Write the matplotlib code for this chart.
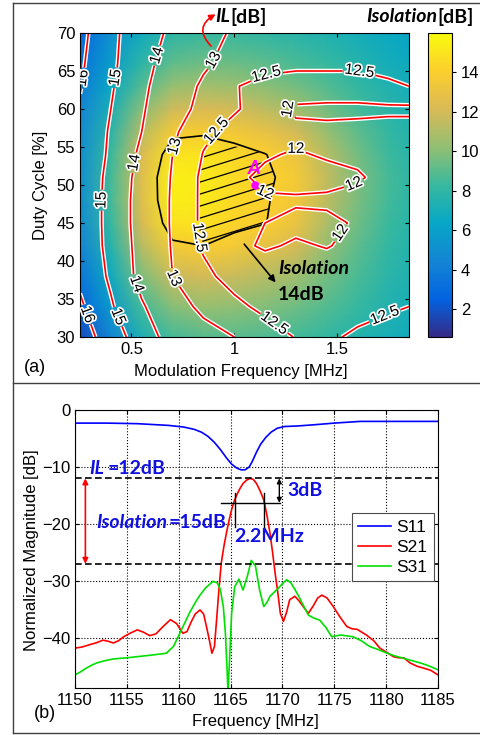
import numpy as np
import matplotlib.pyplot as plt
import matplotlib.patheffects as pe
from matplotlib.colors import LinearSegmentedColormap
from matplotlib.patches import PathPatch, FancyArrowPatch
from matplotlib.lines import Line2D

plt.rcParams['font.family'] = ['Liberation Sans', 'DejaVu Sans']

# ---- panel (a): isolation map + IL contours ----
mod_freq = [0.25, 0.4, 0.55, 0.7, 0.85, 1.0, 1.15, 1.3, 1.45, 1.6, 1.75, 1.85]
duty = [30, 34, 38, 42, 45, 48, 51, 54, 57, 60, 63, 66, 70]

isolation = [
    [1.8, 4.5, 7.3, 8.6, 9.0, 9.0, 8.8, 8.5, 8.1, 7.6, 7.1, 6.8],
    [2.7, 5.6, 8.5, 10.0, 10.4, 10.2, 9.9, 9.5, 8.9, 8.2, 7.5, 7.1],
    [3.6, 6.7, 9.8, 11.7, 12.0, 11.7, 11.2, 10.6, 9.6, 8.7, 7.8, 7.4],
    [4.4, 7.6, 11.2, 13.7, 14.0, 13.6, 12.9, 12.1, 10.4, 9.1, 8.1, 7.6],
    [4.8, 8.2, 12.1, 14.9, 14.9, 14.3, 14.05, 13.1, 11.0, 9.5, 8.3, 7.8],
    [5.0, 8.5, 12.5, 15.4, 15.2, 14.5, 14.1, 13.5, 11.4, 9.7, 8.5, 7.9],
    [5.0, 8.5, 12.5, 15.5, 15.3, 14.6, 14.2, 13.6, 11.5, 9.8, 8.6, 8.0],
    [5.0, 8.3, 12.2, 14.9, 15.0, 14.5, 14.05, 13.2, 11.2, 9.6, 8.4, 7.8],
    [4.8, 7.8, 11.2, 13.6, 13.8, 13.5, 12.9, 12.0, 10.4, 9.1, 8.1, 7.6],
    [4.4, 7.2, 10.0, 11.9, 12.2, 12.0, 11.4, 10.7, 9.6, 8.6, 7.8, 7.3],
    [3.9, 6.5, 8.9, 10.4, 10.7, 10.5, 10.1, 9.6, 8.9, 8.1, 7.4, 7.0],
    [3.4, 5.8, 7.9, 9.2, 9.5, 9.4, 9.1, 8.7, 8.2, 7.6, 7.0, 6.7],
    [2.8, 5.0, 6.8, 7.9, 8.2, 8.2, 8.0, 7.7, 7.4, 7.0, 6.6, 6.3],
]

insertion_loss = [
    [16.5, 15.5, 14.5, 13.6, 13.25, 13.0, 12.7, 12.48, 12.45, 12.55, 12.65, 12.7],
    [16.15, 15.1, 14.1, 13.3, 12.85, 12.6, 12.4, 12.35, 12.35, 12.4, 12.45, 12.5],
    [15.8, 14.85, 13.7, 13.0, 12.6, 12.35, 12.25, 12.2, 12.2, 12.25, 12.3, 12.35],
    [15.65, 14.75, 13.65, 12.95, 12.45, 12.1, 11.95, 12.05, 11.98, 12.1, 12.25, 12.35],
    [15.7, 14.7, 13.6, 12.93, 12.4, 12.1, 12.0, 11.9, 11.9, 12.05, 12.25, 12.3],
    [15.7, 14.7, 13.6, 12.93, 12.4, 12.1, 12.05, 12.05, 12.08, 12.15, 12.25, 12.3],
    [15.7, 14.75, 13.65, 12.95, 12.4, 12.1, 11.9, 11.85, 11.85, 11.95, 12.15, 12.25],
    [15.75, 14.85, 13.8, 13.0, 12.48, 12.2, 12.05, 11.95, 12.05, 12.1, 12.2, 12.25],
    [15.8, 14.9, 14.0, 13.1, 12.6, 12.35, 12.2, 12.15, 12.15, 12.2, 12.2, 12.2],
    [15.9, 15.0, 14.1, 13.3, 12.8, 12.55, 12.3, 11.9, 11.85, 11.85, 11.9, 11.9],
    [16.05, 15.1, 14.2, 13.4, 12.9, 12.52, 12.4, 12.4, 12.4, 12.4, 12.45, 12.5],
    [16.15, 15.2, 14.3, 13.6, 13.1, 12.75, 12.6, 12.55, 12.55, 12.55, 12.6, 12.65],
    [16.3, 15.2, 14.5, 13.8, 13.3, 12.9, 12.8, 12.75, 12.75, 12.75, 12.75, 12.7],
]

il_levels = [12, 12.5, 13, 14, 15, 16]
iso_level = 14
point_a = (1.1, 50)

# where the contour labels sit
label_spots = [(0.28, 64), (0.29, 33), (0.45, 64), (0.35, 48), (0.42, 32.5),
               (0.63, 67), (0.5, 53), (0.53, 37), (0.93, 66), (0.72, 55),
               (0.72, 38), (0.9, 57.5), (0.8, 43), (1.16, 63.6), (1.6, 64),
               (1.2, 32), (1.76, 31), (1.24, 60.3), (1.3, 55.5), (1.12, 47.5),
               (1.6, 48.5), (1.5, 44)]

# ---- panel (b): measured S-parameters ----
f_s11 = [1150, 1153, 1156, 1159, 1160.5, 1161.5, 1162.2, 1162.8, 1163.4, 1164.0, 1164.6,
         1165.1, 1165.6, 1166.0, 1166.4, 1166.8, 1167.1, 1167.5, 1167.9, 1168.4, 1168.9,
         1169.5, 1170.2, 1171.5, 1173, 1175, 1177.5, 1180, 1185]
s11 = [-2.3, -2.3, -2.4, -2.7, -3.0, -3.4, -3.9, -4.6, -5.6, -6.9, -8.4,
       -9.5, -10.2, -10.5, -10.5, -10.0, -9.0, -7.4, -6.0, -4.8, -3.9,
       -3.2, -2.9, -2.8, -2.6, -2.3, -2.0, -2.0, -2.0]

f_s21 = [1150, 1150.7, 1151.4, 1152.0, 1152.7, 1153.2, 1153.7, 1154.2, 1154.7, 1155.3,
         1156.0, 1156.6, 1157.2, 1157.8, 1158.5, 1159.2, 1159.8, 1160.4, 1160.8, 1161.2,
         1161.6, 1162.05, 1162.4, 1162.7, 1163.0, 1163.2, 1163.45, 1163.7, 1163.9, 1164.1,
         1164.35, 1164.6, 1164.85, 1165.1, 1165.35, 1165.6, 1165.9, 1166.2, 1166.55, 1166.9,
         1167.2, 1167.5, 1167.85, 1168.2, 1168.5, 1168.8, 1169.05, 1169.3, 1169.55, 1169.8,
         1170.1, 1170.4, 1170.7, 1171.2, 1171.6, 1172.0, 1172.5, 1173.0, 1173.4, 1173.8,
         1174.3, 1174.9, 1175.5, 1176.2, 1176.7, 1177.2, 1178.1, 1178.8, 1179.4, 1180.1,
         1180.7, 1181.2, 1181.7, 1182.3, 1183.0, 1183.6, 1184.3, 1185]
s21 = [-41.8, -41.6, -41.2, -40.9, -40.4, -40.6, -40.9, -40.5, -39.8, -39.2,
       -38.6, -39.0, -39.6, -39.3, -38.0, -36.8, -37.5, -39.2, -38.9, -37.2,
       -35.8, -35.1, -35.8, -38.2, -40.8, -42.7, -41.5, -35.7, -31.0, -26.9,
       -24.0, -21.6, -19.4, -17.5, -16.0, -14.9, -13.8, -12.9, -12.3, -12.0,
       -12.2, -12.9, -14.2, -15.8, -18.4, -21.6, -25.0, -28.7, -32.0, -35.7,
       -37.1, -35.5, -33.3, -32.7, -33.5, -34.5, -35.7, -34.3, -33.0, -32.5,
       -33.0, -34.5, -36.2, -38.0, -38.4, -38.5, -39.5, -40.5, -41.8, -42.6,
       -43.3, -43.5, -43.5, -44.4, -45.0, -45.3, -45.7, -46.5]

f_s31 = [1150, 1150.5, 1151.1, 1151.6, 1152.1, 1152.9, 1153.7, 1155.0, 1156.0, 1157.5,
         1158.8, 1159.5, 1160.1, 1160.6, 1161.1, 1161.6, 1162.05, 1162.6, 1163.3, 1163.7,
         1164.0, 1164.3, 1164.5, 1164.65, 1164.75, 1164.9, 1165.1, 1165.4, 1165.8, 1166.2,
         1166.6, 1167.0, 1167.4, 1167.8, 1168.2, 1168.5, 1168.8, 1169.2, 1169.6, 1170.0,
         1170.4, 1170.8, 1171.2, 1171.6, 1171.9, 1172.5, 1173.0, 1173.6, 1174.2, 1174.75,
         1175.6, 1176.8, 1177.6, 1178.4, 1179.3, 1180.1, 1180.9, 1181.7, 1182.5, 1183.3,
         1184.1, 1185]
s31 = [-46.5, -46.0, -45.3, -44.8, -44.4, -44.0, -43.7, -43.5, -43.3, -43.0,
       -42.7, -41.5, -39.2, -37.3, -35.4, -33.8, -32.5, -31.2, -30.1, -30.3,
       -31.4, -34.5, -39.2, -45.0, -49.5, -44.0, -35.7, -31.0, -29.7, -31.6,
       -29.3, -26.4, -27.4, -31.6, -34.5, -33.8, -32.7, -32.0, -31.3, -30.5,
       -29.8, -30.3, -31.5, -32.8, -33.9, -36.0, -36.5, -36.9, -38.2, -39.8,
       -39.5, -39.8, -40.5, -41.5, -42.1, -42.7, -43.2, -43.6, -44.0, -44.4,
       -44.9, -45.6]

il_db = -12
iso_db = -27
bw_level = -16.3
bw_edges = [1165.4, 1168.2]

parula = LinearSegmentedColormap.from_list(
    'parula', ['#352a87', '#0363e1', '#1485d4', '#06a7c6', '#38b99e',
               '#92bf73', '#d9ba56', '#fcce2e', '#f9fb0e'])

W, H = 481, 735
fx = lambda px: px / W
fy = lambda py: 1 - py / H

fig = plt.figure(figsize=(4.81, 7.35), dpi=100)

# ---------------- (a) ----------------
ax1 = fig.add_axes([fx(80), fy(337), fx(409) - fx(80), fy(33) - fy(337)])
X, Y = np.meshgrid(mod_freq, duty)
iso = np.array(isolation)
il = np.array(insertion_loss)

mesh = ax1.pcolormesh(X, Y, iso, cmap=parula, vmin=0.6, vmax=16, shading='gouraud')

# hatched area: isolation above 14 dB and IL below 12.5 dB
region = np.minimum(iso - iso_level, 12.5 - il)
hcs = ax1.contourf(X, Y, region, levels=[0, 100], colors='none')
clip = PathPatch(hcs.get_paths()[0], transform=ax1.transData, fc='none', ec='none')
ax1.add_patch(clip)
for k in np.arange(-0.6, 1.2, 0.0395):
    ln, = ax1.plot([0, 1], [k, k + 0.335], transform=ax1.transAxes, color='k', lw=0.9)
    ln.set_clip_path(clip)

ax1.contour(X, Y, iso, levels=[iso_level], colors='k', linewidths=1.2)

cs = ax1.contour(X, Y, il, levels=il_levels, colors='red', linewidths=1.2)
cs.set_path_effects([pe.Stroke(linewidth=3.2, foreground='white'), pe.Normal()])
labels = ax1.clabel(cs, manual=label_spots, fmt='%g', fontsize=11, inline=True, inline_spacing=2)
for t in labels:
    t.set_color('k')
    t.set_path_effects([pe.withStroke(linewidth=2.5, foreground='white')])

ax1.plot(*point_a, 'o', color='magenta', ms=5)
ax1.text(point_a[0] - 0.005, point_a[1] + 2.2, 'A', color='magenta', fontsize=14,
         fontweight='bold', style='italic', ha='center', va='center', family='Lato')
ax1.annotate('', xy=(1.21, 36.9), xytext=(1.04, 42.5),
             arrowprops=dict(arrowstyle='-|>', color='k', lw=1.2, mutation_scale=10))

ax1.set_xlim(0.25, 1.85)
ax1.set_ylim(30, 70)
ax1.set_xticks([0.5, 1, 1.5])
ax1.set_xticklabels(['0.5', '1', '1.5'])
ax1.set_yticks(range(30, 71, 5))
ax1.tick_params(direction='in', top=True, right=True, labelsize=12, length=3)
ax1.set_xlabel('Modulation Frequency [MHz]', fontsize=12)
ax1.xaxis.set_label_coords(0.49, -0.088)
ax1.set_ylabel('Duty Cycle [%]', fontsize=12)
ax1.yaxis.set_label_coords(-0.097, 0.5)

cax = fig.add_axes([fx(428), fy(337), fx(452) - fx(428), fy(33) - fy(337)])
cb = fig.colorbar(mesh, cax=cax, ticks=range(2, 15, 2))
cax.tick_params(labelsize=12, length=3)

ann = dict(fontsize=14, fontweight='bold', family='Lato', va='center')
fig.text(fx(230), fy(17), 'IL', ha='right', style='italic', **ann)
fig.text(fx(230), fy(17), '[dB]', ha='left', **ann)
fig.text(fx(437), fy(17), 'Isolation', ha='right', style='italic', **ann)
fig.text(fx(437), fy(17), '[dB]', ha='left', **ann)
fig.text(fx(278), fy(268), 'Isolation', ha='left', style='italic', **ann)
fig.text(fx(278), fy(295), '14dB', ha='left', **ann)
fig.add_artist(FancyArrowPatch((fx(213), fy(48)), (fx(218), fy(13)), transform=fig.transFigure,
                               connectionstyle='arc3,rad=-0.7', arrowstyle='-|>',
                               mutation_scale=9, color='red', lw=1.2))
fig.text(fx(35), fy(367), '(a)', fontsize=13, ha='center', va='center')

# ---------------- (b) ----------------
ax2 = fig.add_axes([fx(75), fy(688), fx(438) - fx(75), fy(410) - fy(688)])
ax2.plot(f_s11, s11, color='#0000ff', lw=1.2, label='S11')
ax2.plot(f_s21, s21, color='#ff0000', lw=1.2, label='S21')
ax2.plot(f_s31, s31, color='#00e000', lw=1.2, label='S31')
ax2.set_xlim(1150, 1185)
ax2.set_ylim(-48.8, 0)
ax2.set_xticks(range(1150, 1186, 5))
ax2.set_yticks([0, -10, -20, -30, -40])
ax2.grid(True, linestyle=':', color='k', lw=0.8)
ax2.tick_params(direction='in', top=True, right=True, labelsize=12, length=3)
ax2.set_xlabel('Frequency [MHz]', fontsize=12)
ax2.xaxis.set_label_coords(0.496, -0.093)
ax2.set_ylabel('Normalized Magnitude [dB]', fontsize=12)
ax2.yaxis.set_label_coords(-0.1, 0.496)

for lvl in (il_db, iso_db):
    ax2.axhline(lvl, color='k', ls='--', lw=1.2, dashes=(4, 2))
ax2.annotate('', xy=(1151, iso_db), xytext=(1151, il_db),
             arrowprops=dict(arrowstyle='<|-|>', color='red', lw=1.2, mutation_scale=8,
                             shrinkA=0, shrinkB=0))
ax2.annotate('', xy=(1169.7, bw_level), xytext=(1169.7, il_db),
             arrowprops=dict(arrowstyle='<|-|>', color='k', lw=1, mutation_scale=7,
                             shrinkA=0, shrinkB=0))
ax2.plot([1164.1, 1169.8], [bw_level, bw_level], color='k', lw=1)
for e in bw_edges:
    ax2.plot([e, e], [-14.6, -20.5], color='k', lw=1)

leg = ax2.legend(loc='upper right', bbox_to_anchor=(0.988, 0.628), fontsize=12.5,
                 handlelength=1.9, handletextpad=0.3, borderpad=0.35, labelspacing=0.3,
                 borderaxespad=0, fancybox=False, edgecolor='0.3', framealpha=1)
leg.get_frame().set_linewidth(0.8)

blue = '#1010e0'
fig.text(fx(104), fy(468), 'IL', ha='right', style='italic', color=blue, **ann)
fig.text(fx(108), fy(468), '=12dB', ha='left', color=blue, **ann)
fig.text(fx(167), fy(522), 'Isolation', ha='right', style='italic', color=blue, **ann)
fig.text(fx(169), fy(522), '=15dB', ha='left', color=blue, **ann)
fig.text(fx(287), fy(491), '3dB', ha='left', color=blue, **ann)
fig.text(fx(234), fy(537), '2.2MHz', ha='left', color=blue, **ann)
fig.text(fx(45), fy(713), '(b)', fontsize=13, ha='center', va='center')

# panel frames
fcol = '0.25'
fig.add_artist(Line2D([fx(12.5), fx(12.5)], [fy(3), fy(733)], color=fcol, lw=1))
for py in (3, 383, 733):
    fig.add_artist(Line2D([fx(12.5), 1], [fy(py), fy(py)], color=fcol, lw=1))

fig.savefig('out.png', dpi=100)
